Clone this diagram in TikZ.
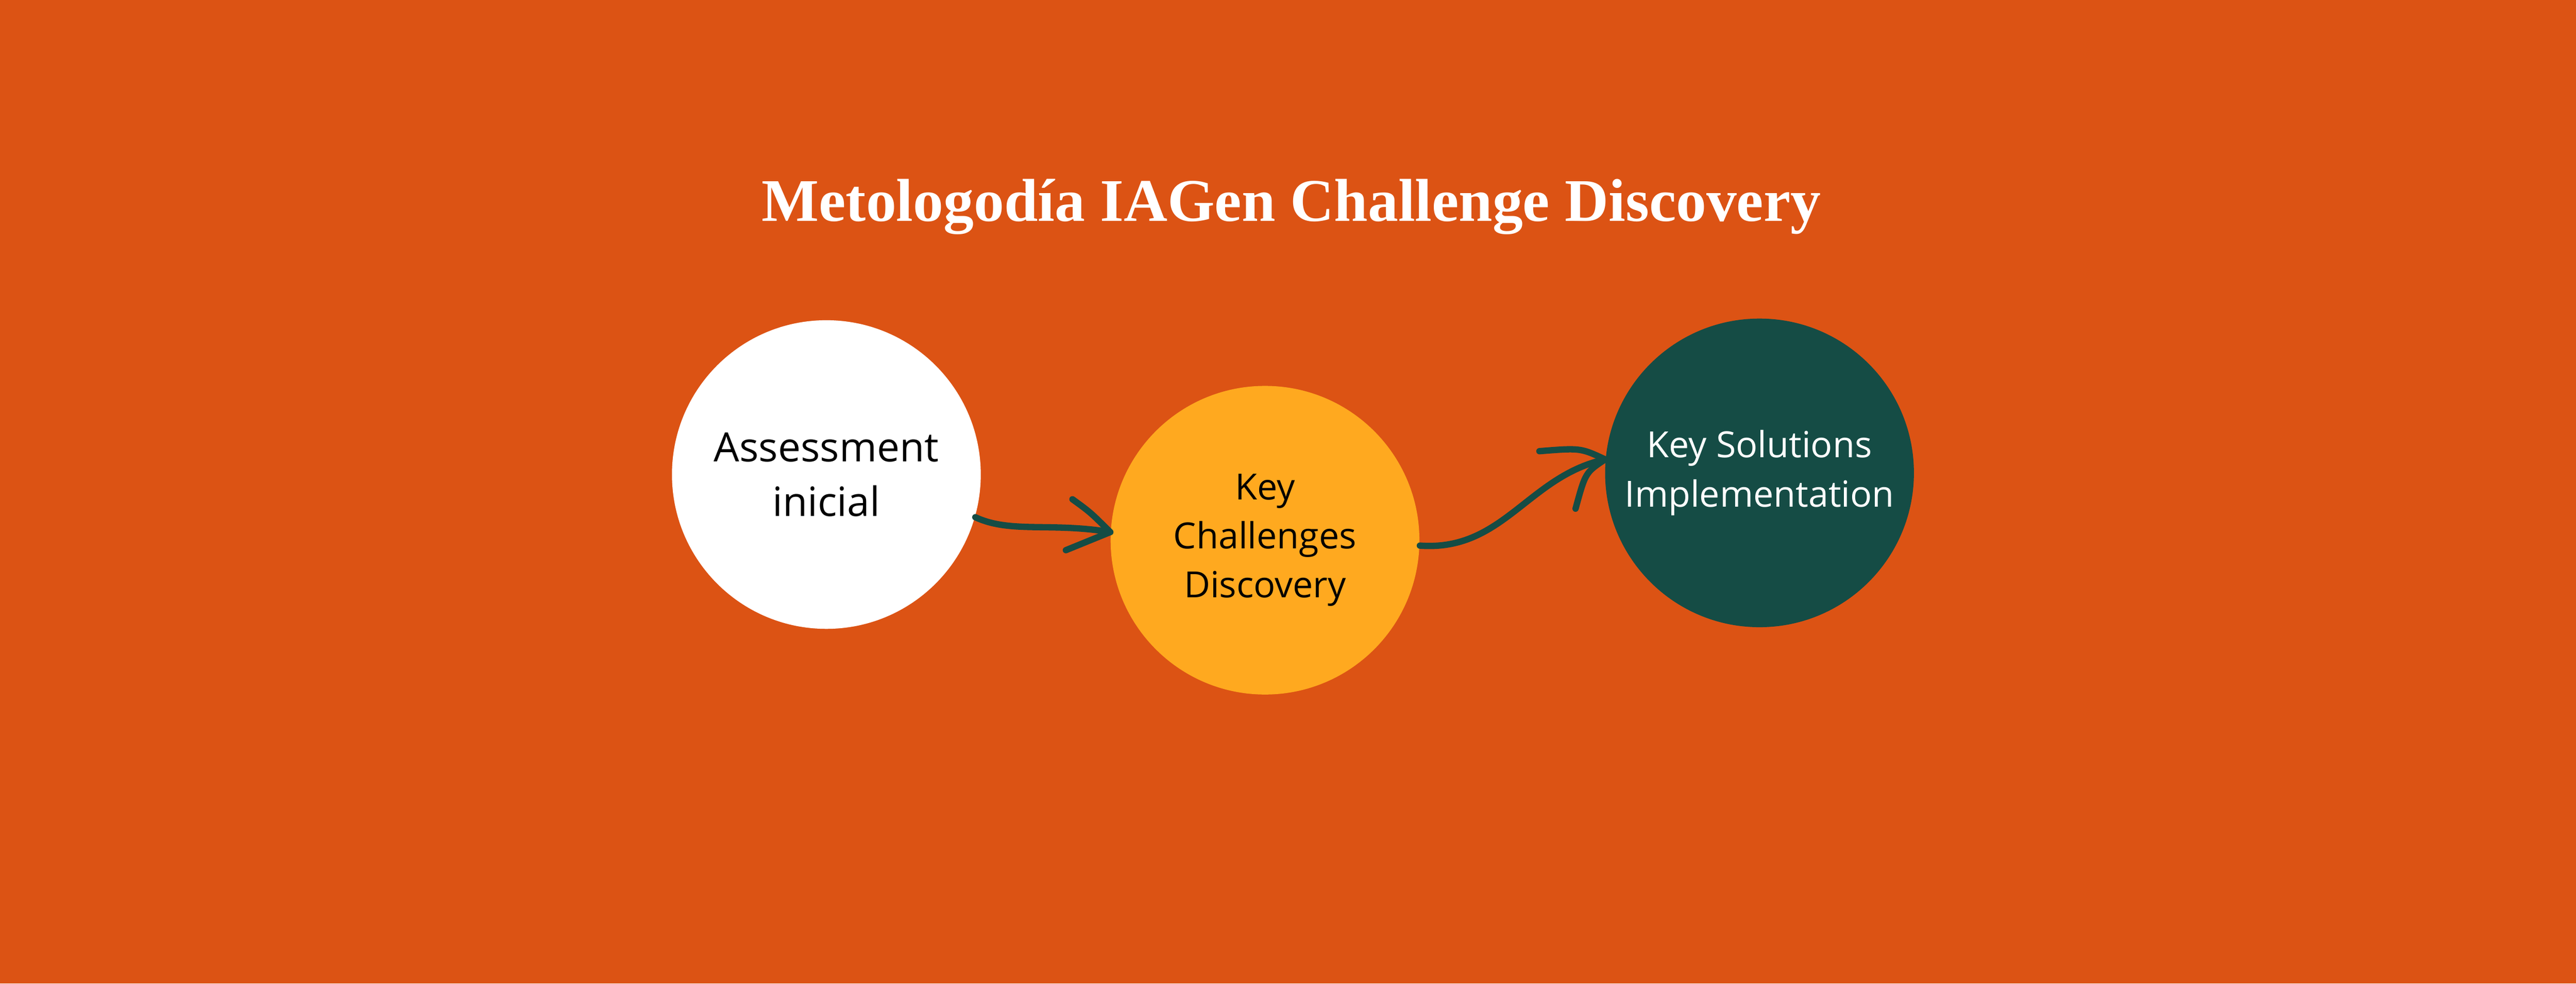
\documentclass[tikz,border=0pt]{standalone}
\usepackage{fontspec}
\setmainfont{Liberation Serif}
\newfontfamily\bodyfont{Open Sans}
\definecolor{bg}{HTML}{DC5314}
\definecolor{amber}{HTML}{FFA91F}
\definecolor{pine}{HTML}{154C45}
\begin{document}
\begin{tikzpicture}[x=0.02cm,y=-0.02cm,
  circ/.style={circle,minimum size=3.76cm,inner sep=0pt,align=center,font=\bodyfont},
  conn/.style={draw=pine,line width=2.2pt,line cap=round,line join=round}]
\fill[bg] (0,0) rectangle (1568,599);
\useasboundingbox (0,0) rectangle (1568,599);
\node[font=\bfseries\fontsize{21}{24}\selectfont,text=white] (title) at (786,126) {Metologodía IAGen Challenge Discovery};
\node[circ,fill=white,font=\bodyfont\fontsize{14}{19}\selectfont] (a) at (503,289) {Assessment\\inicial};
\node[circ,fill=amber,font=\bodyfont\fontsize{12.5}{17}\selectfont] (b) at (770,329) {Key\\Challenges\\Discovery};
\node[circ,fill=pine,text=white,font=\bodyfont\fontsize{12.5}{17}\selectfont] (c) at (1071,288) {Key Solutions\\Implementation};
\draw[conn] (a.-16) .. controls (615,325) and (640,318) .. (b.177);
\draw[conn] ([shift={(-23,-20)}]b.177) .. controls ([shift={(-12,-12)}]b.177) .. (b.177) -- ([shift={(-27,11)}]b.177);
\draw[conn] (b.-2) .. controls (915,336) and (930,290) .. (c.175);
\draw[conn] ([shift={(-40,-5)}]c.175) .. controls ([shift={(-15,-7)}]c.175) .. (c.175) .. controls ([shift={(-12,8)}]c.175) .. ([shift={(-18,30)}]c.175);
\end{tikzpicture}
\end{document}
